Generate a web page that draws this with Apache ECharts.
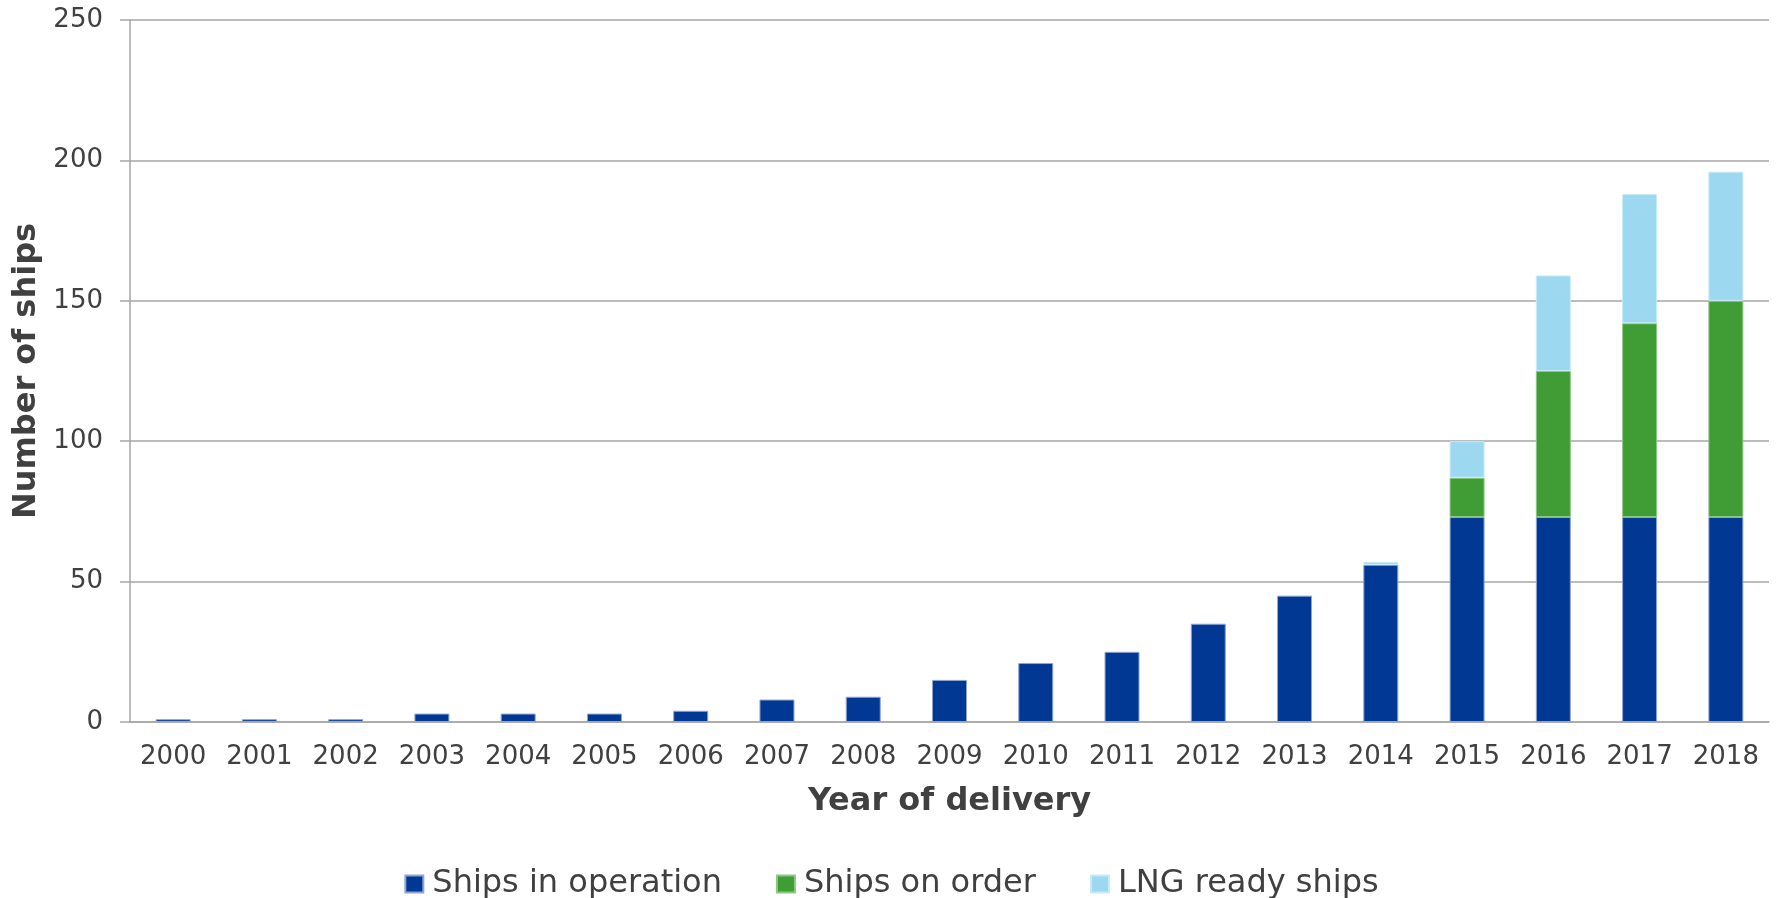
<!DOCTYPE html>
<html>
<head>
<meta charset="utf-8">
<script src="https://cdn.jsdelivr.net/npm/echarts@6/dist/echarts.min.js"></script>
<style>
  html, body { margin: 0; padding: 0; background: #fff; }
  #main { width: 1783px; height: 898px; }
</style>
</head>
<body>
<div id="main"></div>
<script>
const years = ["2000", "2001", "2002", "2003", "2004", "2005", "2006", "2007", "2008", "2009",
  "2010", "2011", "2012", "2013", "2014", "2015", "2016", "2017", "2018"];
const inOperation = [1, 1, 1, 3, 3, 3, 4, 8, 9, 15, 21, 25, 35, 45, 56, 73, 73, 73, 73];
const onOrder = [0, 0, 0, 0, 0, 0, 0, 0, 0, 0, 0, 0, 0, 0, 0, 14, 52, 69, 77];
const lngReady = [0, 0, 0, 0, 0, 0, 0, 0, 0, 0, 0, 0, 0, 0, 1, 13, 34, 46, 46];

const font = "'DejaVu Sans', Verdana, sans-serif";
const textColor = "#404040";
const lineColor = "#a6a6a6";

const chart = echarts.init(document.getElementById("main"));

// zero-height segments would still draw their border, so leave them empty
const bar = (name, data, color, border) => ({
  name,
  type: "bar",
  stack: "ships",
  barWidth: 35,
  data: data.map(v => (v === 0 ? null : v)),
  itemStyle: { color, borderColor: border, borderWidth: 1 },
  emphasis: { disabled: true },
});

chart.setOption({
  animation: false,
  textStyle: { fontFamily: font },
  grid: { left: 130, right: 14, top: 20, bottom: 176 },
  legend: {
    top: 863,
    left: "center",
    icon: "rect",
    itemWidth: 18,
    itemHeight: 17,
    itemGap: 54,
    textStyle: { fontSize: 32, color: textColor, fontFamily: font, padding: [0, 0, 0, 4] },
    data: ["Ships in operation", "Ships on order", "LNG ready ships"],
  },
  xAxis: {
    type: "category",
    data: years,
    name: "Year of delivery",
    nameLocation: "middle",
    nameGap: 64,
    nameTextStyle: { fontSize: 32, fontWeight: "bold", color: textColor, fontFamily: font },
    axisLine: { lineStyle: { color: lineColor, width: 1.5 } },
    axisTick: { length: 10, lineStyle: { color: lineColor, width: 1.5 } },
    axisLabel: { fontSize: 26, color: textColor, margin: 22, fontFamily: font },
  },
  yAxis: {
    type: "value",
    min: 0,
    max: 250,
    interval: 50,
    name: "Number of ships",
    nameLocation: "middle",
    nameGap: 86,
    nameTextStyle: { fontSize: 32, fontWeight: "bold", color: textColor, fontFamily: font },
    axisLine: { show: true, lineStyle: { color: lineColor, width: 1.5 } },
    axisTick: { show: true, length: 10, lineStyle: { color: lineColor, width: 1.5 } },
    axisLabel: { fontSize: 26, color: textColor, margin: 27, fontFamily: font },
    splitLine: { lineStyle: { color: lineColor, width: 1.5 } },
  },
  series: [
    bar("Ships in operation", inOperation, "#003893", "#8fa6d4"),
    bar("Ships on order", onOrder, "#409c35", "#8cc884"),
    bar("LNG ready ships", lngReady, "#9cd8f0", "#c6ebf8"),
  ],
});
</script>
</body>
</html>
